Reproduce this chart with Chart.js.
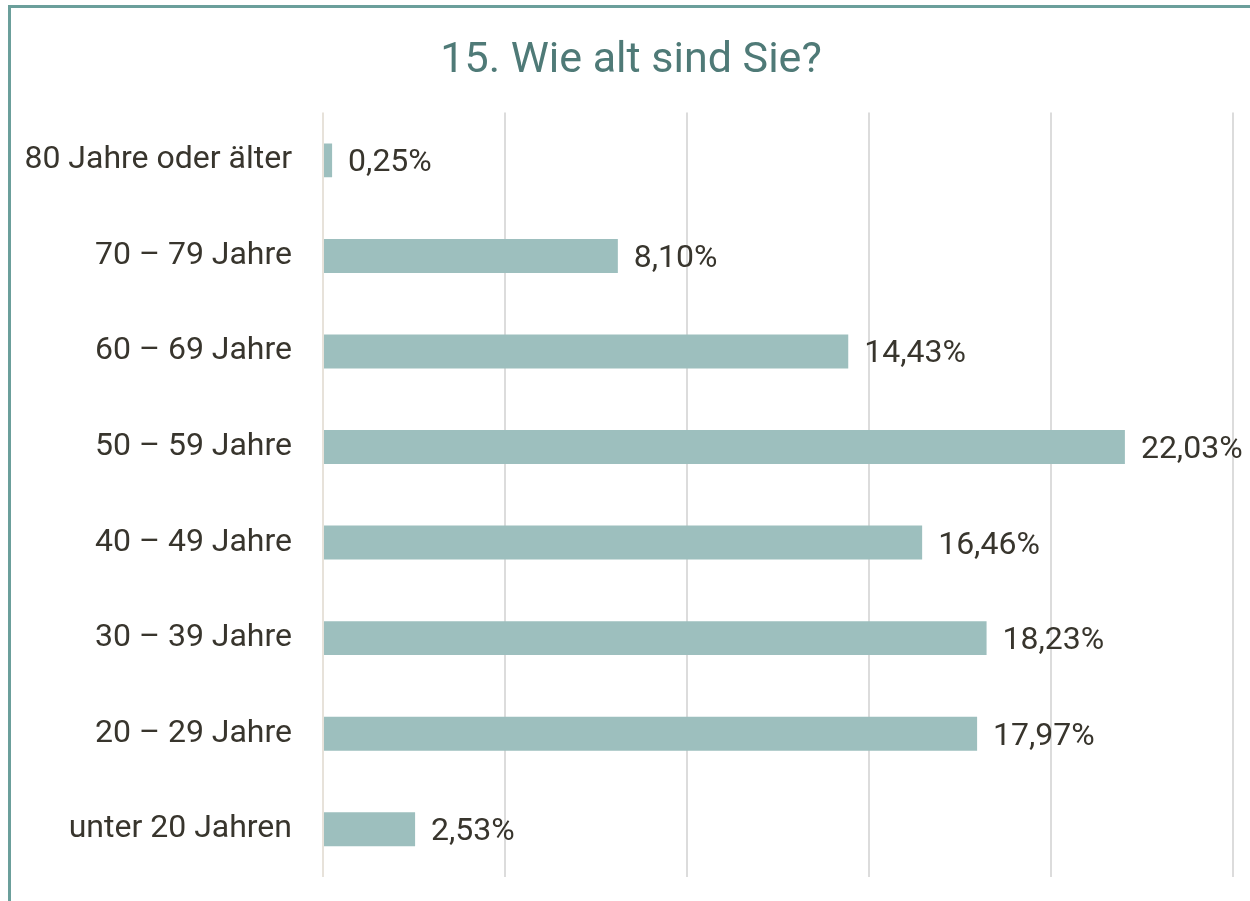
<!DOCTYPE html>
<html>
<head>
<meta charset="utf-8">
<script src="https://cdn.jsdelivr.net/npm/chart.js@4"></script>
<style>
  html, body { margin: 0; padding: 0; background: #fff; }
  #wrap { width: 1250px; height: 901px; position: relative; }
</style>
</head>
<body>
<div id="wrap"><canvas id="chart" width="1250" height="901"></canvas></div>
<script>
// age groups, top to bottom as in the picture
let categories = [
  "80 Jahre oder älter",
  "70 – 79 Jahre",
  "60 – 69 Jahre",
  "50 – 59 Jahre",
  "40 – 49 Jahre",
  "30 – 39 Jahre",
  "20 – 29 Jahre",
  "unter 20 Jahren"
];
let percentValues = [0.25, 8.10, 14.43, 22.03, 16.46, 18.23, 17.97, 2.53];
let valueLabels = ["0,25%", "8,10%", "14,43%", "22,03%", "16,46%", "18,23%", "17,97%", "2,53%"];
let xTicks = [0, 5, 10, 15, 20, 25];

let fontName = "Roboto";
let textColor = "#38352d";

// teal frame along the left and top edge
let framePlugin = {
  id: "frame",
  afterDraw(chart) {
    let ctx = chart.ctx;
    ctx.save();
    ctx.strokeStyle = "#6b9f9b";
    ctx.lineWidth = 3;
    ctx.beginPath();
    ctx.moveTo(9.5, 901);
    ctx.lineTo(9.5, 6.5);
    ctx.lineTo(1250, 6.5);
    ctx.stroke();
    ctx.restore();
  }
};

// value text right of every bar
let valueLabelPlugin = {
  id: "valueLabels",
  afterDatasetsDraw(chart) {
    let ctx = chart.ctx;
    let meta = chart.getDatasetMeta(0);
    ctx.save();
    ctx.font = "32px " + fontName;
    ctx.fillStyle = textColor;
    ctx.textAlign = "left";
    ctx.textBaseline = "middle";
    meta.data.forEach((bar, i) => {
      ctx.fillText(valueLabels[i], bar.x + 16, bar.y + 3);
    });
    ctx.restore();
  }
};

let ctx = document.getElementById("chart").getContext("2d");
let myChart = new Chart(ctx, {
  type: "bar",
  data: {
    labels: categories,
    datasets: [{
      data: percentValues,
      backgroundColor: "#9dbfbe",
      borderWidth: 0,
      barPercentage: 0.71,
      categoryPercentage: 0.5
    }]
  },
  options: {
    indexAxis: "y",
    responsive: false,
    animation: false,
    layout: {
      padding: { left: 12, right: 0, top: 0, bottom: 24 }
    },
    plugins: {
      legend: { display: false },
      tooltip: { enabled: false },
      title: {
        display: true,
        text: "15. Wie alt sind Sie?",
        color: "#4f7a77",
        font: { family: fontName, size: 43, weight: "normal", lineHeight: 1.2 },
        padding: { top: 35, bottom: 26 }
      }
    },
    scales: {
      x: {
        min: 0,
        max: 25,
        afterBuildTicks: scale => {
          scale.ticks = xTicks.map(v => ({ value: v }));
        },
        afterFit: scale => {
          scale.height = 0;
          scale.paddingLeft = 0;
          scale.paddingRight = 17;
        },
        ticks: { display: false },
        border: { display: false },
        grid: {
          drawTicks: false,
          lineWidth: 2,
          color: c => (c.tick && c.tick.value === 0) ? "#e7e2da" : "#dcdcdc"
        }
      },
      y: {
        afterFit: scale => {
          scale.width = 311;
          scale.paddingTop = 0;
          scale.paddingBottom = 0;
        },
        border: { display: false },
        grid: { display: false, drawTicks: false },
        ticks: {
          color: textColor,
          padding: 31,
          font: { family: fontName, size: 32, weight: "normal" }
        }
      }
    }
  },
  plugins: [framePlugin, valueLabelPlugin]
});
</script>
</body>
</html>
